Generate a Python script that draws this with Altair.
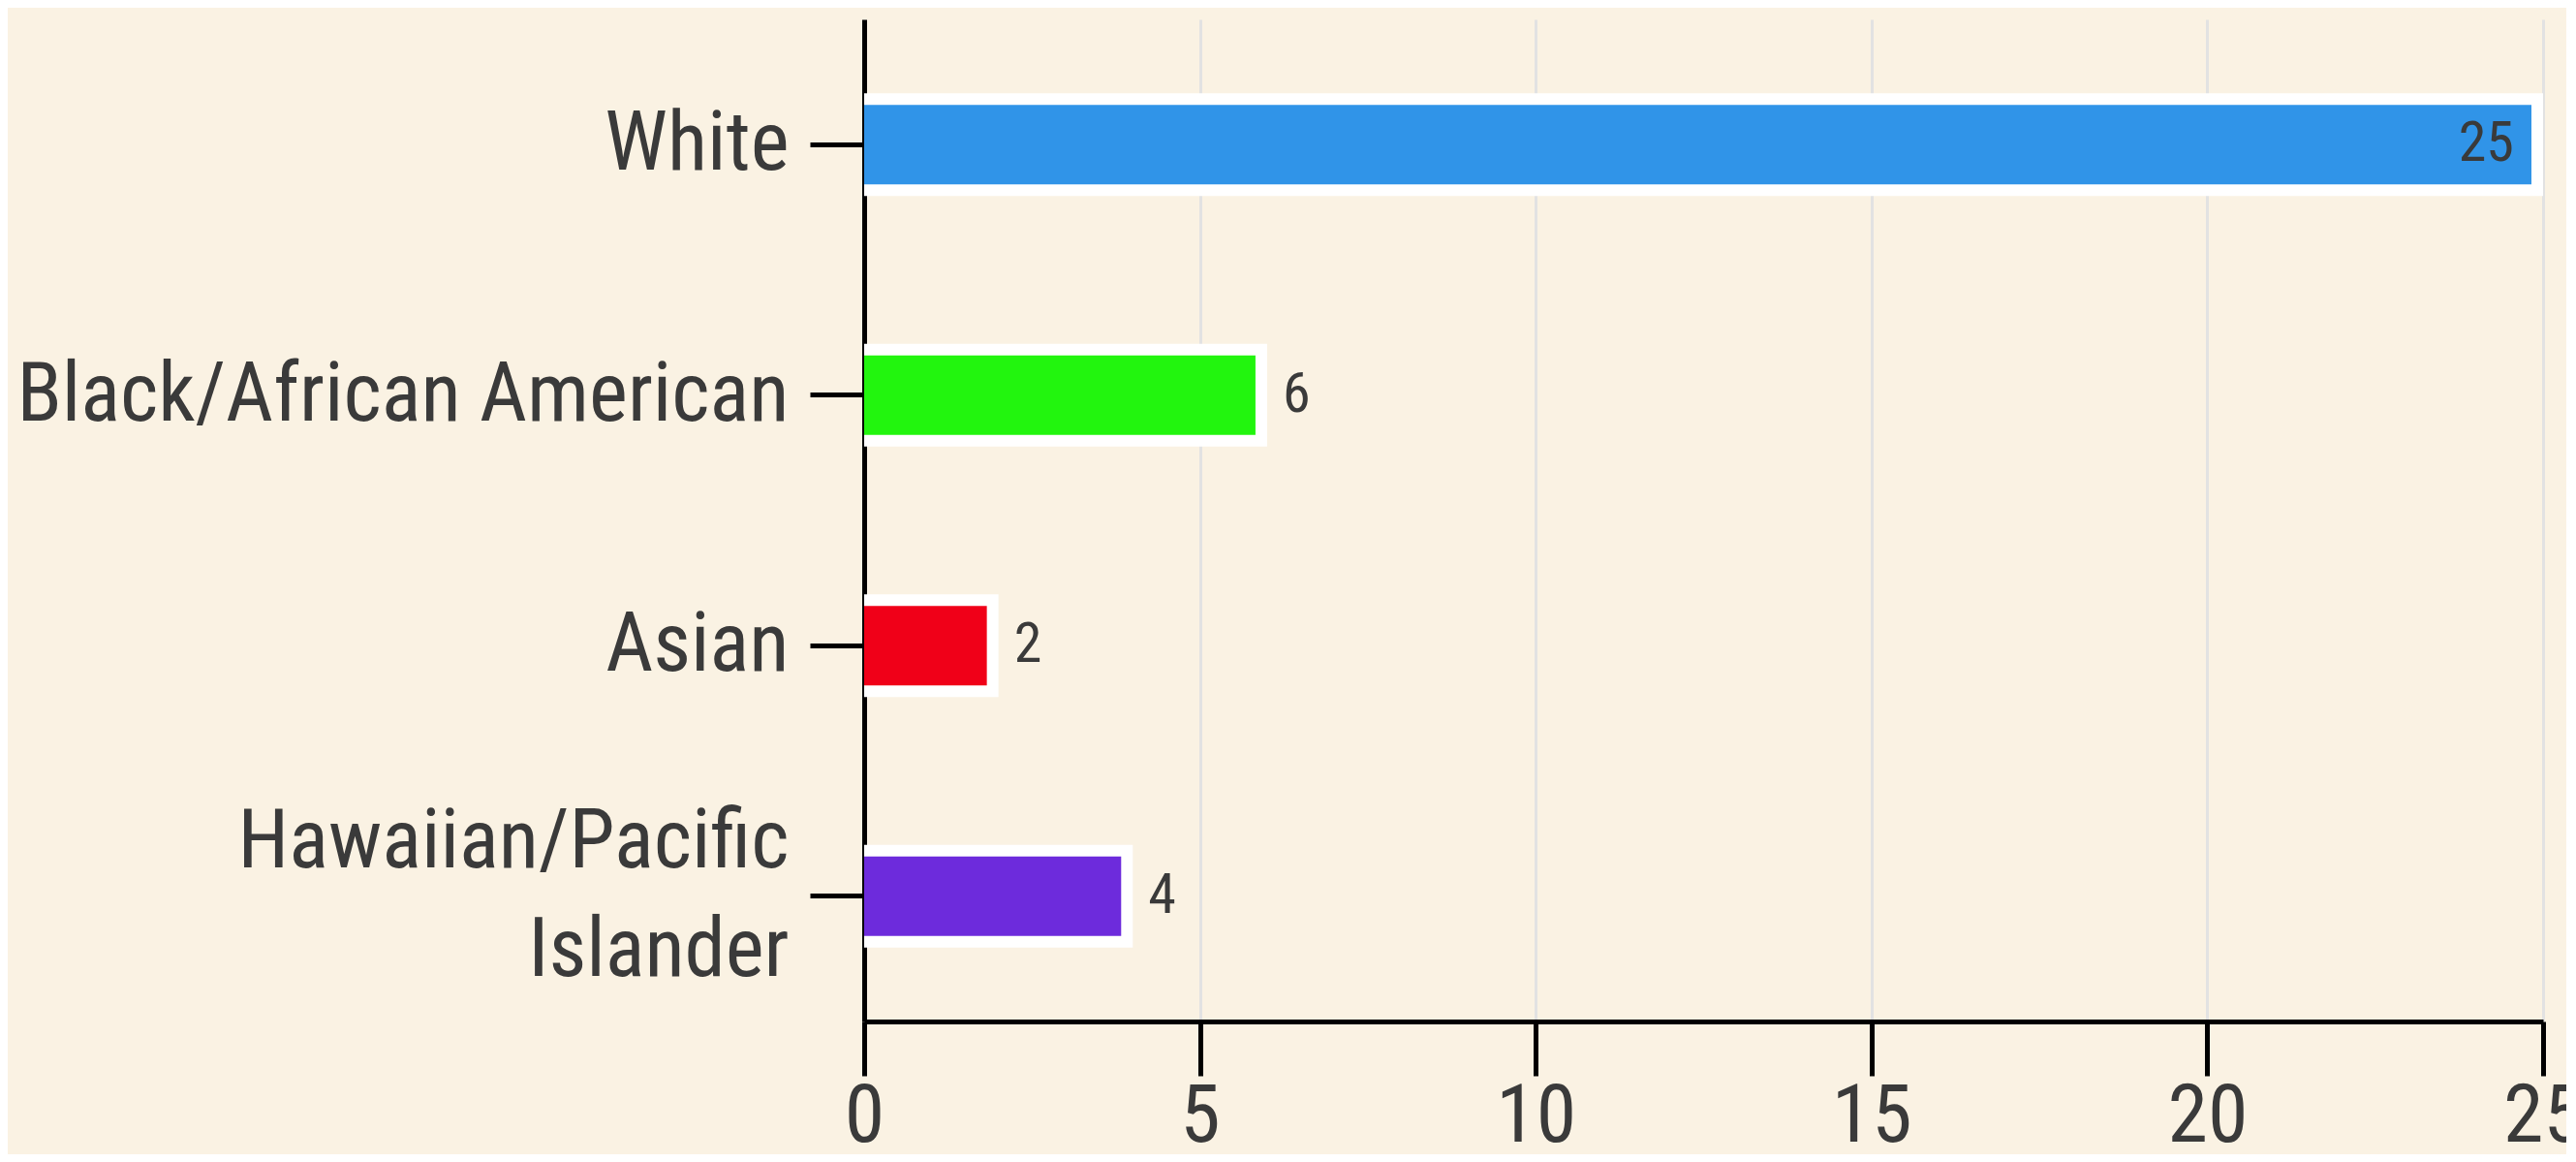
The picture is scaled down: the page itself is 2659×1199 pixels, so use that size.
import altair as alt
import pandas as pd

categories = ["White", "Black/African American", "Asian", "Hawaiian/Pacific Islander"]
counts = [25, 6, 2, 4]
colors = ["#3094E8", "#22F50E", "#F00018", "#6D2BDC"]
x_ticks = [0, 5, 10, 15, 20, 25]

df = pd.DataFrame({"category": categories, "count": counts, "color": colors, "zero": [0] * len(counts)})

FONT = "Roboto Condensed, Liberation Sans Narrow, DejaVu Sans Condensed, sans-serif"
TEXT = "#3a3a3a"

y_enc = alt.Y(
    "category:N",
    sort=categories,
    scale=alt.Scale(paddingInner=0, paddingOuter=0),
    axis=alt.Axis(
        title=None,
        labelFontSize=85,
        labelFont=FONT,
        labelColor=TEXT,
        labelPadding=22,
        labelLineHeight=112,
        labelLimit=2000,
        labelExpr="datum.label == 'Hawaiian/Pacific Islander' ? ['Hawaiian/Pacific', 'Islander'] : datum.label",
        labelOffset={"condition": {"test": "datum.value == 'Hawaiian/Pacific Islander'", "value": -56}, "value": 0},
        domainColor="black",
        domainWidth=5,
        tickColor="black",
        tickWidth=5,
        tickSize=56,
        grid=False,
    ),
)

x_scale = alt.Scale(domain=[0, 25], nice=False)
x_axis = alt.Axis(
    title=None,
    values=x_ticks,
    format="d",
    labelFontSize=84,
    labelFont=FONT,
    labelColor=TEXT,
    labelPadding=1,
    labelFlush=False,
    domainColor="black",
    domainWidth=5,
    tickColor="black",
    tickWidth=5,
    tickSize=56,
    grid=True,
    gridColor="#e2e2e2",
    gridWidth=3,
)

base = alt.Chart(df)

white_bar = base.mark_bar(size=106, color="white", clip=True).encode(
    x=alt.X("count:Q", scale=x_scale, axis=x_axis),
    x2="zero:Q",
    y=y_enc,
)

color_bar = base.mark_bar(size=82, xOffset=-12, clip=True).encode(
    x=alt.X("count:Q", scale=x_scale),
    x2="zero:Q",
    y=alt.Y("category:N", sort=categories),
    color=alt.Color("color:N", scale=None, legend=None),
)

inside_text = base.transform_filter("datum.count >= 20").mark_text(
    align="right", baseline="middle", dx=-30, fontSize=58, font=FONT, color=TEXT
).encode(
    x=alt.X("count:Q", scale=x_scale),
    y=alt.Y("category:N", sort=categories),
    text="count:Q",
)

outside_text = base.transform_filter("datum.count < 20").mark_text(
    align="left", baseline="middle", dx=16, fontSize=58, font=FONT, color=TEXT
).encode(
    x=alt.X("count:Q", scale=x_scale),
    y=alt.Y("category:N", sort=categories),
    text="count:Q",
)

chart = (
    alt.layer(white_bar, color_bar, inside_text, outside_text)
    .properties(
        width=1733,
        height=1034,
        background="#FAF2E3",
        autosize=alt.AutoSizeParams(type="none"),
        padding={"left": 884, "top": 12, "right": 24, "bottom": 137},
    )
    .configure_view(stroke=None)
)

chart.save("out.html", embed_options={"renderer": "svg", "actions": False})
